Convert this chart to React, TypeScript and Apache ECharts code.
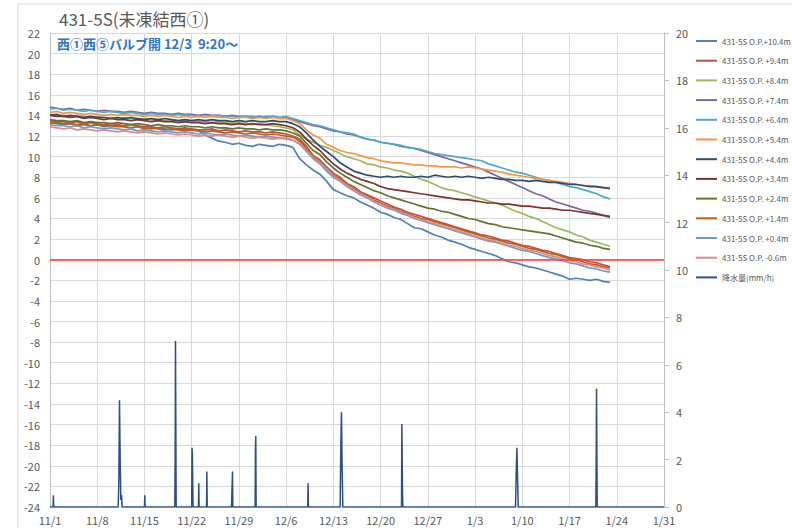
import React, { useEffect, useRef } from 'react';
import * as echarts from 'echarts';

const titleText = '431-5S(未凍結西①)';
const subTitleText = '西①西⑤バルブ開 12/3  9:20～';

const xTickLabels = ['11/1', '11/8', '11/15', '11/22', '11/29', '12/6', '12/13', '12/20', '12/27', '1/3', '1/10', '1/17', '1/24', '1/31'];

const seriesNames = [
  '431-5S O.P.+10.4m', '431-5S O.P. +9.4m', '431-5S O.P. +8.4m', '431-5S O.P. +7.4m',
  '431-5S O.P. +6.4m', '431-5S O.P. +5.4m', '431-5S O.P. +4.4m', '431-5S O.P. +3.4m',
  '431-5S O.P. +2.4m', '431-5S O.P. +1.4m', '431-5S O.P. +0.4m', '431-5S O.P. -0.6m',
];
const rainName = '降水量(mm/h)';

const seriesColors = ['#4F81BD', '#C0504D', '#9BBB59', '#8064A2', '#4BACC6', '#F79646', '#2C4D75', '#7F3330', '#5F7530', '#C0600F', '#729ACA', '#DA8C8A'];
const rainColor = '#2E4F86';

// daily readings, day 0 = 11/1
const op104 = [
  13.3, 13.2, 13.1, 13.2, 13.0, 13.1, 13.0, 13.1, 12.9, 13.0, 13.0,
  12.9, 12.8, 12.9, 12.8, 12.7, 12.8, 12.7, 12.6, 12.7, 12.6, 12.6, 12.5,
  12.1, 11.8, 11.5, 11.4, 11.2, 11.3, 11.1, 11.0, 11.2, 11.1, 11.0, 11.2, 11.1, 10.9,
  9.8, 9.2, 8.7, 8.3, 7.6, 6.8, 6.5, 6.2, 6.0, 5.6, 5.3, 5.0, 4.6, 4.4,
  4.1, 3.9, 3.5, 3.1, 3.0, 2.7, 2.4, 2.2, 1.9, 1.7,
  1.5, 1.2, 1.0, 0.8, 0.6, 0.4, 0.1, -0.2, -0.3, -0.5,
  -0.7, -0.8, -1.0, -1.2, -1.4, -1.6, -1.9, -1.8, -1.9, -2.0, -1.9, -2.1, -2.2,
];
const op94 = [
  13.5, 13.4, 13.4, 13.3, 13.4, 13.2, 13.3, 13.2, 13.1, 13.2, 13.1,
  13.0, 13.1, 13.0, 12.9, 12.9, 12.8, 12.9, 12.8, 12.7, 12.8, 12.7, 12.6,
  12.6, 12.7, 12.5, 12.6, 12.5, 12.4, 12.5, 12.4, 12.4, 12.3, 12.4, 12.3, 12.2, 12.0,
  11.7, 11.0, 10.1, 9.7, 9.0, 8.4, 8.0, 7.4, 7.1, 6.6, 6.3, 6.0, 5.7, 5.4,
  5.1, 4.9, 4.6, 4.4, 4.2, 4.0, 3.8, 3.6, 3.4, 3.2,
  3.0, 2.8, 2.6, 2.4, 2.3, 2.1, 1.9, 1.8, 1.6, 1.4,
  1.3, 1.1, 0.9, 0.8, 0.6, 0.4, 0.2, 0.1, 0.0, -0.2, -0.3, -0.5, -0.7,
];
const op84 = [
  14.1, 14.0, 14.0, 13.9, 14.0, 13.9, 13.8, 13.9, 13.8, 13.8, 13.7,
  13.8, 13.7, 13.6, 13.7, 13.6, 13.6, 13.5, 13.6, 13.5, 13.4, 13.5, 13.4,
  13.4, 13.3, 13.4, 13.3, 13.2, 13.3, 13.2, 13.1, 13.2, 13.1, 13.0, 12.9, 12.8, 12.6,
  12.1, 11.7, 11.4, 11.1, 10.9, 10.6, 10.3, 10.0, 9.8, 9.6, 9.3, 9.2, 9.0, 8.9,
  8.7, 8.6, 8.4, 8.1, 7.8, 7.6, 7.3, 7.0, 6.8, 6.7,
  6.5, 6.3, 6.1, 5.9, 5.7, 5.5, 5.3, 5.0, 4.7, 4.5,
  4.2, 4.0, 3.7, 3.4, 3.1, 2.9, 2.7, 2.4, 2.2, 1.9, 1.7, 1.5, 1.3,
];
const op74 = [
  14.8, 14.7, 14.6, 14.7, 14.5, 14.6, 14.5, 14.4, 14.5, 14.4, 14.4,
  14.3, 14.4, 14.3, 14.2, 14.3, 14.2, 14.2, 14.1, 14.2, 14.1, 14.1, 14.0,
  14.1, 14.0, 14.0, 13.9, 14.0, 13.9, 13.9, 13.8, 13.9, 13.8, 13.9, 13.8, 13.8, 13.6,
  13.4, 13.2, 13.0, 12.9, 12.7, 12.5, 12.4, 12.2, 12.1, 11.9, 11.7, 11.6, 11.4, 11.3,
  11.2, 11.0, 10.9, 10.8, 10.6, 10.4, 10.2, 10.0, 9.8, 9.6,
  9.4, 9.2, 9.0, 8.8, 8.5, 8.2, 7.9, 7.6, 7.3, 7.0,
  6.7, 6.4, 6.2, 5.9, 5.6, 5.4, 5.2, 5.0, 4.8, 4.7, 4.5, 4.3, 4.1,
];
const op64 = [
  14.6, 14.7, 14.5, 14.6, 14.5, 14.4, 14.5, 14.4, 14.3, 14.4, 14.3,
  14.2, 14.3, 14.2, 14.1, 14.2, 14.1, 14.1, 14.0, 14.1, 14.0, 14.0, 13.9,
  14.0, 13.9, 14.0, 13.9, 13.9, 13.8, 13.9, 13.9, 13.8, 13.9, 13.9, 13.8, 13.9, 13.7,
  13.5, 13.3, 13.1, 13.0, 12.8, 12.6, 12.4, 12.3, 12.2, 11.9, 11.7, 11.6, 11.4, 11.3,
  11.2, 11.1, 10.9, 10.8, 10.7, 10.5, 10.3, 10.2, 10.1, 10.0,
  9.9, 9.8, 9.7, 9.6, 9.3, 9.1, 8.9, 8.7, 8.5, 8.4,
  8.2, 8.0, 7.8, 7.7, 7.5, 7.3, 7.1, 7.0, 6.8, 6.6, 6.4, 6.1, 5.9,
];
const op54 = [
  14.3, 14.4, 14.2, 14.3, 14.2, 14.1, 14.2, 14.1, 14.0, 14.1, 14.0,
  14.1, 14.0, 14.0, 13.9, 14.0, 13.9, 14.0, 13.9, 13.8, 13.9, 13.8, 13.9,
  13.8, 13.9, 13.8, 13.8, 13.7, 13.8, 13.8, 13.7, 13.8, 13.7, 13.8, 13.7, 13.7, 13.5,
  13.2, 12.6, 12.1, 11.8, 11.2, 10.9, 10.6, 10.4, 10.3, 10.1, 9.9, 9.8, 9.6, 9.5,
  9.4, 9.4, 9.3, 9.2, 9.2, 9.1, 9.1, 9.0, 9.0, 9.0,
  8.9, 9.0, 8.9, 8.8, 8.7, 8.6, 8.5, 8.3, 8.2, 8.1,
  8.0, 7.9, 7.8, 7.7, 7.6, 7.5, 7.4, 7.3, 7.2, 7.2, 7.1, 7.0, 7.0,
];
const op44 = [
  14.0, 14.1, 13.9, 14.0, 13.9, 13.8, 13.9, 13.8, 13.8, 13.7, 13.8,
  13.7, 13.8, 13.7, 13.6, 13.7, 13.6, 13.7, 13.6, 13.5, 13.6, 13.5, 13.6,
  13.5, 13.6, 13.5, 13.5, 13.4, 13.5, 13.4, 13.5, 13.4, 13.4, 13.5, 13.4, 13.4, 13.2,
  12.9, 12.3, 11.6, 11.0, 10.5, 10.0, 9.4, 9.0, 8.6, 8.4, 8.2, 8.1, 8.0, 8.1,
  8.0, 8.1, 8.0, 8.0, 8.1, 8.0, 8.2, 8.1, 8.0, 8.1,
  8.0, 8.1, 8.0, 7.9, 8.0, 7.9, 7.8, 7.8, 7.7, 7.7,
  7.6, 7.7, 7.6, 7.5, 7.5, 7.4, 7.3, 7.3, 7.2, 7.1, 7.1, 7.0, 6.9,
];
const op34 = [
  14.0, 13.9, 13.9, 13.8, 13.9, 13.7, 13.8, 13.7, 13.6, 13.7, 13.6,
  13.6, 13.5, 13.6, 13.5, 13.4, 13.5, 13.4, 13.4, 13.3, 13.4, 13.3, 13.3,
  13.2, 13.3, 13.2, 13.2, 13.1, 13.2, 13.1, 13.2, 13.1, 13.1, 13.2, 13.1, 13.0, 12.8,
  12.4, 11.7, 11.1, 10.6, 9.9, 9.3, 8.8, 8.4, 8.1, 7.8, 7.6, 7.4, 7.1, 6.9,
  6.8, 6.7, 6.6, 6.5, 6.4, 6.3, 6.2, 6.1, 6.0, 5.9,
  5.8, 5.8, 5.7, 5.6, 5.5, 5.5, 5.4, 5.4, 5.3, 5.2,
  5.2, 5.1, 5.0, 5.0, 4.9, 4.8, 4.8, 4.7, 4.6, 4.5, 4.4, 4.3, 4.2,
];
const op24 = [
  13.6, 13.5, 13.5, 13.4, 13.5, 13.3, 13.4, 13.3, 13.3, 13.2, 13.3,
  13.2, 13.1, 13.2, 13.1, 13.0, 13.1, 13.0, 13.0, 12.9, 13.0, 12.9, 12.9,
  12.8, 12.9, 12.8, 12.8, 12.7, 12.8, 12.7, 12.7, 12.6, 12.7, 12.6, 12.6, 12.5, 12.3,
  12.0, 11.3, 10.6, 10.2, 9.5, 8.9, 8.4, 8.0, 7.6, 7.3, 7.0, 6.7, 6.5, 6.2,
  6.0, 5.8, 5.6, 5.4, 5.2, 5.0, 4.9, 4.7, 4.6, 4.4,
  4.2, 4.0, 3.9, 3.7, 3.5, 3.4, 3.2, 3.1, 3.0, 2.9,
  2.8, 2.7, 2.6, 2.5, 2.3, 2.1, 1.9, 1.7, 1.6, 1.4, 1.3, 1.1, 1.0,
];
const op14 = [
  13.3, 13.3, 13.2, 13.2, 13.1, 13.2, 13.0, 13.1, 13.0, 13.0, 12.9,
  12.9, 12.8, 12.9, 12.7, 12.8, 12.7, 12.6, 12.7, 12.6, 12.5, 12.6, 12.5,
  12.4, 12.5, 12.4, 12.3, 12.4, 12.3, 12.2, 12.3, 12.2, 12.1, 12.2, 12.1, 12.0, 11.9,
  11.5, 10.8, 10.0, 9.5, 8.8, 8.2, 7.8, 7.3, 6.9, 6.5, 6.2, 5.8, 5.5, 5.2,
  5.0, 4.7, 4.5, 4.2, 4.0, 3.9, 3.7, 3.5, 3.3, 3.1,
  2.9, 2.7, 2.5, 2.3, 2.1, 2.0, 1.8, 1.6, 1.5, 1.3,
  1.1, 1.0, 0.8, 0.6, 0.5, 0.3, 0.1, 0.0, -0.2, -0.4, -0.5, -0.7, -0.8,
];
const op04 = [
  13.1, 13.0, 13.0, 12.9, 13.0, 12.8, 12.9, 12.8, 12.7, 12.8, 12.7,
  12.6, 12.7, 12.5, 12.6, 12.5, 12.4, 12.5, 12.4, 12.3, 12.4, 12.3, 12.2,
  12.3, 12.2, 12.1, 12.2, 12.1, 12.0, 12.1, 12.0, 11.9, 12.0, 11.9, 11.8, 11.8, 11.6,
  11.2, 10.5, 9.8, 9.3, 8.6, 8.0, 7.6, 7.1, 6.7, 6.3, 6.0, 5.6, 5.3, 5.0,
  4.8, 4.5, 4.3, 4.0, 3.8, 3.6, 3.4, 3.2, 3.0, 2.8,
  2.6, 2.4, 2.2, 2.0, 1.8, 1.7, 1.5, 1.3, 1.1, 0.9,
  0.8, 0.6, 0.4, 0.2, 0.1, -0.1, -0.3, -0.4, -0.6, -0.8, -0.9, -1.1, -1.2,
];
const opm06 = [
  12.9, 12.8, 12.7, 12.8, 12.6, 12.7, 12.6, 12.5, 12.6, 12.5, 12.4,
  12.5, 12.4, 12.3, 12.4, 12.3, 12.2, 12.3, 12.2, 12.1, 12.2, 12.1, 12.0,
  12.1, 12.0, 12.1, 12.0, 11.9, 12.0, 11.9, 11.8, 11.9, 11.8, 11.7, 11.8, 11.7, 11.6,
  11.3, 10.6, 9.9, 9.4, 8.8, 8.1, 7.7, 7.2, 6.8, 6.4, 6.1, 5.7, 5.4, 5.1,
  4.9, 4.6, 4.4, 4.1, 3.9, 3.7, 3.5, 3.3, 3.1, 2.9,
  2.7, 2.5, 2.3, 2.1, 1.9, 1.8, 1.6, 1.4, 1.3, 1.1,
  0.9, 0.8, 0.6, 0.4, 0.3, 0.1, -0.1, -0.2, -0.4, -0.5, -0.7, -0.8, -1.0,
];

const seriesValues = [op104, op94, op84, op74, op64, op54, op44, op34, op24, op14, op04, opm06];

// rainfall (mm/h), day offsets from 11/1
const rainDay = [
  0, 0.45, 0.5, 0.55,
  10.1, 10.2, 10.3, 10.4, 10.5, 10.6, 10.7,
  14.0, 14.05, 14.1,
  18.5, 18.55, 18.6, 18.7,
  21.0, 21.05, 21.1, 21.2,
  22.0, 22.05, 22.1,
  23.2, 23.25, 23.3,
  26.9, 26.95, 27.05, 27.1,
  30.4, 30.45, 30.5, 30.55,
  38.2, 38.25, 38.3,
  43.0, 43.1, 43.2, 43.3, 43.4,
  52.1, 52.15, 52.25, 52.3,
  69.0, 69.1, 69.2, 69.3, 69.4,
  80.9, 80.95, 81.0, 81.1,
  91,
];
const rainMm = [
  0, 0, 0.5, 0,
  0, 1.0, 4.5, 2.0, 0.3, 0.5, 0,
  0, 0.5, 0,
  0, 2.2, 7.0, 0,
  0, 2.5, 2.2, 0,
  0, 1.0, 0,
  0, 1.5, 0,
  0, 0.5, 1.5, 0,
  0, 2.5, 3.0, 0,
  0, 1.0, 0,
  0, 2.5, 4.0, 1.5, 0,
  0, 3.5, 0.5, 0,
  0, 1.5, 2.5, 1.2, 0,
  0, 2.0, 5.0, 0,
  0,
];

const FONT = '"Noto Sans CJK JP", "Noto Sans", sans-serif';
const TXT = '#595959';

export default function App() {
  const ref = useRef<HTMLDivElement>(null);
  useEffect(() => {
    if (!ref.current) return;
    const chart = echarts.init(ref.current, undefined, { renderer: 'svg' });
    const lineSeries = seriesValues.map((vals, si) => ({
      name: seriesNames[si],
      type: 'line',
      yAxisIndex: 0,
      data: vals.map((v, i) => [i, v]),
      showSymbol: false,
      symbol: 'none',
      color: seriesColors[si],
      lineStyle: { width: 1.7, color: seriesColors[si] },
      silent: true,
      ...(si === 0
        ? {
            markLine: {
              silent: true,
              symbol: 'none',
              label: { show: false },
              lineStyle: { color: '#FF3B3B', width: 1.5, type: 'solid' },
              data: [{ yAxis: 0 }],
            },
          }
        : {}),
    }));
    const option = {
      animation: false,
      backgroundColor: '#ffffff',
      textStyle: { fontFamily: FONT },
      title: {
        text: titleText,
        left: 54,
        top: 5,
        textStyle: { fontSize: 17, color: TXT, fontWeight: 'normal', fontFamily: FONT },
      },
      graphic: [
        {
          type: 'rect',
          shape: { x: 18, y: 4, width: 800, height: 540 },
          style: { fill: 'none', stroke: '#D9D9D9', lineWidth: 1 },
          silent: true,
        },
        {
          type: 'text',
          left: 57,
          top: 37,
          z: 100,
          style: {
            text: subTitleText,
            fill: '#2E75C6',
            font: `bold 13px ${FONT}`,
          },
        },
      ],
      legend: {
        orient: 'vertical',
        left: 691,
        top: 29,
        icon: 'rect',
        itemWidth: 21,
        itemHeight: 2,
        itemGap: 5.7,
        textStyle: { fontSize: 8, lineHeight: 14, color: TXT, fontFamily: FONT },
        data: [...seriesNames, rainName],
      },
      grid: { left: 50, right: 128, top: 33, bottom: 21, containLabel: false },
      xAxis: {
        type: 'value',
        min: 0,
        max: 91,
        interval: 7,
        axisLine: { show: true, lineStyle: { color: '#BFBFBF' } },
        axisTick: { show: false },
        splitLine: { show: true, lineStyle: { color: '#D9D9D9', width: 1 } },
        axisLabel: {
          fontSize: 11,
          color: TXT,
          margin: 7,
          fontFamily: FONT,
          formatter: (v: number) => xTickLabels[Math.round(v / 7)] ?? '',
        },
      },
      yAxis: [
        {
          type: 'value',
          min: -24,
          max: 22,
          interval: 2,
          axisLine: { show: true, lineStyle: { color: '#BFBFBF' } },
          axisTick: { show: false },
          splitLine: { show: true, lineStyle: { color: '#D9D9D9', width: 1 } },
          axisLabel: { fontSize: 11, color: TXT, margin: 10, fontFamily: FONT },
        },
        {
          type: 'value',
          position: 'right',
          min: 0,
          max: 20,
          interval: 2,
          axisLine: { show: true, lineStyle: { color: '#BFBFBF' } },
          axisTick: { show: true, length: 5, lineStyle: { color: '#BFBFBF' } },
          splitLine: { show: false },
          axisLabel: { fontSize: 11, color: TXT, margin: 12, fontFamily: FONT },
        },
      ],
      series: [
        ...lineSeries,
        {
          name: rainName,
          type: 'line',
          yAxisIndex: 1,
          data: rainDay.map((d, i) => [d, rainMm[i]]),
          showSymbol: false,
          symbol: 'none',
          color: rainColor,
          lineStyle: { width: 1.5, color: rainColor },
          silent: true,
        },
      ],
    };
    chart.setOption(option as any);
    return () => chart.dispose();
  }, []);
  return (
    <div
      ref={ref}
      style={{ position: 'fixed', left: 0, top: 0, width: 792, height: 528, background: '#fff' }}
    />
  );
}
